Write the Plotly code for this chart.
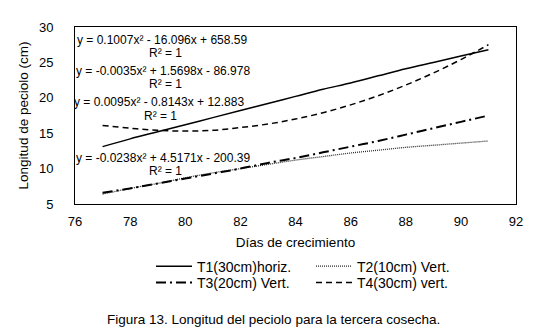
import plotly.graph_objects as go

# ---- data ----
days = [77, 78, 79, 80, 81, 82, 83, 84, 85, 86, 87, 88, 89, 90, 91]
t1_horiz_30 = [13.1, 14.2, 15.2, 16.2, 17.2, 18.2, 19.2, 20.2, 21.2, 22.1, 23.1, 24.1, 25.0, 25.9, 26.8]
t2_vert_10 = [6.4, 7.2, 7.9, 8.7, 9.4, 10.0, 10.6, 11.2, 11.7, 12.2, 12.6, 13.0, 13.3, 13.6, 13.9]
t3_vert_20 = [6.6, 7.2, 7.9, 8.6, 9.3, 10.0, 10.8, 11.5, 12.3, 13.1, 13.9, 14.8, 15.7, 16.6, 17.5]
t4_vert_30 = [16.1, 15.7, 15.4, 15.3, 15.4, 15.8, 16.3, 17.0, 17.9, 19.0, 20.3, 21.8, 23.5, 25.4, 27.5]

series_names = ["T1(30cm)horiz.", "T2(10cm) Vert.", "T3(20cm) Vert.", "T4(30cm) vert."]

equations = [
    "y = 0.1007x² - 16.096x + 658.59",
    "y = -0.0035x² + 1.5698x - 86.978",
    "y = 0.0095x² - 0.8143x + 12.883",
    "y = -0.0238x² + 4.5171x - 200.39",
]
r2_label = "R² = 1"
x_ticks = [76, 78, 80, 82, 84, 86, 88, 90, 92]
y_ticks = [5, 10, 15, 20, 25, 30]

x_title = "Días de crecimiento"
y_title = "Longitud de peciolo (cm)"
caption = "Figura 13. Longitud del peciolo para la tercera cosecha."

FONT = "Liberation Sans, Arial, sans-serif"

fig = go.Figure()
styles = [
    dict(color="black", width=1.5, dash="solid"),
    dict(color="#2a2a2a", width=1.3, dash="1px,1px"),
    dict(color="black", width=2, dash="10px,4px,2px,4px"),
    dict(color="black", width=1.5, dash="6px,4px"),
]
values = [t1_horiz_30, t2_vert_10, t3_vert_20, t4_vert_30]
legends = ["legend", "legend", "legend2", "legend2"]
for name, vals, st, lg in zip(series_names, values, styles, legends):
    fig.add_trace(go.Scatter(x=days, y=vals, mode="lines", name=name,
                             line=dict(shape="spline", **st), legend=lg))

# equation labels (anchored inside the axis range, nudged in pixels)
eq_pos = [(76.05, 28.2, 0, 79.3, 26.3), (76.01, 23.84, 0, 79.3, 22.0),
          (76.01, 19.37, -2, 79.1, 17.5), (76.01, 11.47, 0, 79.3, 9.6)]
for eq, (ex, ey, xs, rx, ry) in zip(equations, eq_pos):
    fig.add_annotation(x=ex, y=ey, xshift=xs, text=eq, showarrow=False, xanchor="left",
                       yanchor="middle", borderpad=0,
                       font=dict(size=12, color="black", family=FONT))
    fig.add_annotation(x=rx, y=ry, text=r2_label, showarrow=False, xanchor="center",
                       yanchor="middle", borderpad=0,
                       font=dict(size=12, color="black", family=FONT))

fig.add_annotation(xref="paper", yref="paper", x=(265 - 67) / 441, y=(196 - 316) / 184,
                   text=caption, showarrow=False, xanchor="center", yanchor="middle",
                   font=dict(size=13.5, color="black", family=FONT))

axis_common = dict(showline=True, linecolor="black", linewidth=1, mirror=True,
                   showgrid=False, zeroline=False, ticks="",
                   tickfont=dict(size=13, color="black", family=FONT))

legend_common = dict(orientation="h", xanchor="left", yanchor="middle",
                     entrywidth=109, entrywidthmode="pixels", itemwidth=36,
                     bgcolor="rgba(0,0,0,0)", font=dict(size=14, family=FONT),
                     tracegroupgap=0)

fig.update_layout(
    width=557, height=331,
    margin=dict(l=67, r=49, t=12, b=135),
    paper_bgcolor="white", plot_bgcolor="white",
    font=dict(family=FONT, color="black"),
    xaxis=dict(range=[76, 92], tickvals=x_ticks, ticklabelstandoff=5,
               title=dict(text=x_title, standoff=9, font=dict(size=13.5, family=FONT)),
               **axis_common),
    yaxis=dict(range=[5, 30], tickvals=y_ticks, ticklabelstandoff=18,
               title=dict(text=y_title, standoff=7, font=dict(size=13.5, family=FONT)),
               **axis_common),
    legend=dict(x=(143 - 67) / 441, y=(196 - 261) / 184, **legend_common),
    legend2=dict(x=(143 - 67) / 441, y=(196 - 278) / 184, **legend_common),
    showlegend=True,
)

fig.write_html("out.html")
